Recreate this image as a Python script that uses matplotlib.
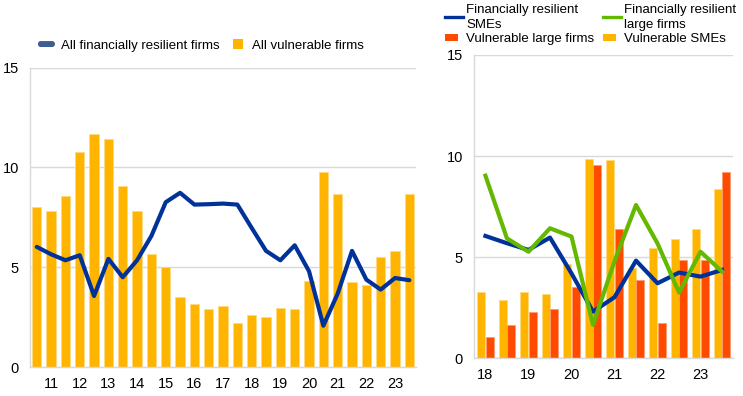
import matplotlib
matplotlib.use("Agg")
from matplotlib import pyplot as plt
from matplotlib.lines import Line2D
from matplotlib.patches import Patch, Rectangle, FancyBboxPatch
from matplotlib.legend_handler import HandlerPatch
import numpy as np

plt.rcParams['font.family'] = ['Liberation Sans', 'DejaVu Sans']

BLUE = "#003299"
YELLOW = "#FFB400"
RED = "#FF4B00"
GREEN = "#65B800"
GRID = "#d9d9d9"

# left panel: half-years 2010H2 .. 2023H2
todas_vulnerables = [8.03, 7.84, 8.58, 10.79, 11.66, 11.44, 9.08, 7.84, 5.65, 5.0,
                     3.49, 3.16, 2.93, 3.04, 2.21, 2.59, 2.49, 2.96, 2.93, 4.31,
                     9.75, 8.66, 4.25, 4.13, 5.52, 5.82, 8.66]
todas_resilientes = [6.02, 5.65, 5.35, 5.6, 3.56, 5.42, 4.5, 5.35, 6.57, 8.26,
                     8.73, 8.14, 8.16, 8.19, 8.14, 6.97, 5.82, 5.35, 6.1, 4.8,
                     2.07, 3.68, 5.82, 4.38, 3.88, 4.46, 4.35]
etiquetas_izq = ["11", "12", "13", "14", "15", "16", "17", "18", "19", "20", "21", "22", "23"]

# right panel: half-years 2018H1 .. 2023H2
pyme_vulnerables = [3.28, 2.88, 3.28, 3.16, 4.65, 9.86, 9.79, 4.48, 5.46, 5.92, 6.4, 8.36]
grandes_vulnerables = [1.05, 1.65, 2.27, 2.44, 3.54, 9.58, 6.4, 3.87, 1.76, 4.85, 4.88, 9.2]
pyme_resilientes = [6.05, 5.69, 5.36, 5.97, 4.2, 2.31, 3.02, 4.83, 3.71, 4.24, 4.04, 4.37]
grandes_resilientes = [9.03, 5.93, 5.27, 6.43, 6.02, 1.65, 4.8, 7.58, 5.68, 3.25, 5.27, 4.29]
etiquetas_der = ["18", "19", "20", "21", "22", "23"]

TAM = 9.5


def estilo_ejes(ax):
    ax.set_ylim(0, 15)
    ax.set_yticks([0, 5, 10, 15])
    ax.grid(axis='y', color=GRID, linewidth=1)
    ax.set_axisbelow(True)
    for lado in ['top', 'right']:
        ax.spines[lado].set_visible(False)
    for lado in ['left', 'bottom']:
        ax.spines[lado].set_color(GRID)
        ax.spines[lado].set_linewidth(1)
    ax.tick_params(length=0, labelsize=10.5, colors='black')
    ax.tick_params(axis='x', pad=7)
    ax.tick_params(axis='y', pad=8)


def cuadro(ancho, alto):
    # small rectangle for the legend, sizes in points
    def f(legend, orig_handle, xdescent, ydescent, width, height, fontsize):
        return Rectangle((-xdescent, -ydescent + (height - alto) / 2), ancho, alto)
    return HandlerPatch(patch_func=f)


def pastilla(legend, orig_handle, xdescent, ydescent, width, height, fontsize):
    return FancyBboxPatch((-xdescent, -ydescent + (height - 4.3) / 2), 12.2, 4.3,
                          boxstyle="round,pad=0,rounding_size=2")


def leyenda(handles, labels, x, y, loc, hl, pad, mapa=None, sep=0.0):
    leg = fig.legend(handles, labels, loc=loc, bbox_to_anchor=(x, y), frameon=False,
                     fontsize=TAM, handlelength=hl, handletextpad=pad, borderpad=0,
                     borderaxespad=0, labelspacing=sep, handler_map=mapa)
    for t in leg.get_texts():
        t.set_linespacing(1.35)
    return leg


fig = plt.figure(figsize=(7.43, 3.96), dpi=100)

# left panel
ax1 = fig.add_axes([0.0404, 0.0732, 0.5196, 0.7558])
x1 = np.arange(len(todas_vulnerables))
ax1.bar(x1, todas_vulnerables, width=0.65, color=YELLOW, edgecolor="#ffd980", linewidth=0.6)
ax1.plot(x1, todas_resilientes, color=BLUE, linewidth=3, solid_capstyle='round', solid_joinstyle='round')
ax1.set_xlim(-0.47, 26.47)
ax1.set_xticks(np.arange(1, len(todas_vulnerables), 2))
ax1.set_xticklabels(etiquetas_izq)
estilo_ejes(ax1)

p_azul = Patch(facecolor="#3c5e90", edgecolor="none")
p_amarillo = Patch(facecolor=YELLOW, edgecolor="none")
leyenda([p_azul], ["All financially resilient firms"], 0.0511, 0.885, 'center left',
        1.29, 0.45, {p_azul: HandlerPatch(patch_func=pastilla)})
leyenda([p_amarillo], ["All vulnerable firms"], 0.3136, 0.885, 'center left',
        0.76, 0.65, {p_amarillo: cuadro(7.2, 7.2)})

# right panel
ax2 = fig.add_axes([0.638, 0.0952, 0.348, 0.766])
x2 = np.arange(len(pyme_vulnerables))
ax2.bar(x2 - 0.2, pyme_vulnerables, width=0.37, color=YELLOW, edgecolor="#ffd980", linewidth=0.6)
ax2.bar(x2 + 0.2, grandes_vulnerables, width=0.37, color=RED, edgecolor="#ff9a70", linewidth=0.6)
ax2.plot(x2, pyme_resilientes, color=BLUE, linewidth=3, solid_joinstyle='round')
ax2.plot(x2, grandes_resilientes, color=GREEN, linewidth=3, solid_joinstyle='round')
ax2.set_xlim(-0.53, 11.49)
ax2.set_xticks(np.arange(0, len(pyme_vulnerables), 2))
ax2.set_xticklabels(etiquetas_der)
estilo_ejes(ax2)

p_rojo = Patch(facecolor=RED, edgecolor="none")
p_amarillo2 = Patch(facecolor=YELLOW, edgecolor="none")
leyenda([Line2D([0], [0], color=BLUE, linewidth=2.4), p_rojo],
        ["Financially resilient\nSMEs", "Vulnerable large firms"], 0.599, 0.99, 'upper left',
        1.36, 0.25, {p_rojo: cuadro(9.4, 5.0)}, sep=0.15)
leyenda([Line2D([0], [0], color=GREEN, linewidth=2.4), p_amarillo2],
        ["Financially resilient\nlarge firms", "Vulnerable SMEs"], 0.8116, 0.99, 'upper left',
        1.36, 0.25, {p_amarillo2: cuadro(9.4, 5.0)}, sep=0.15)

fig.savefig("out.png", dpi=100)
